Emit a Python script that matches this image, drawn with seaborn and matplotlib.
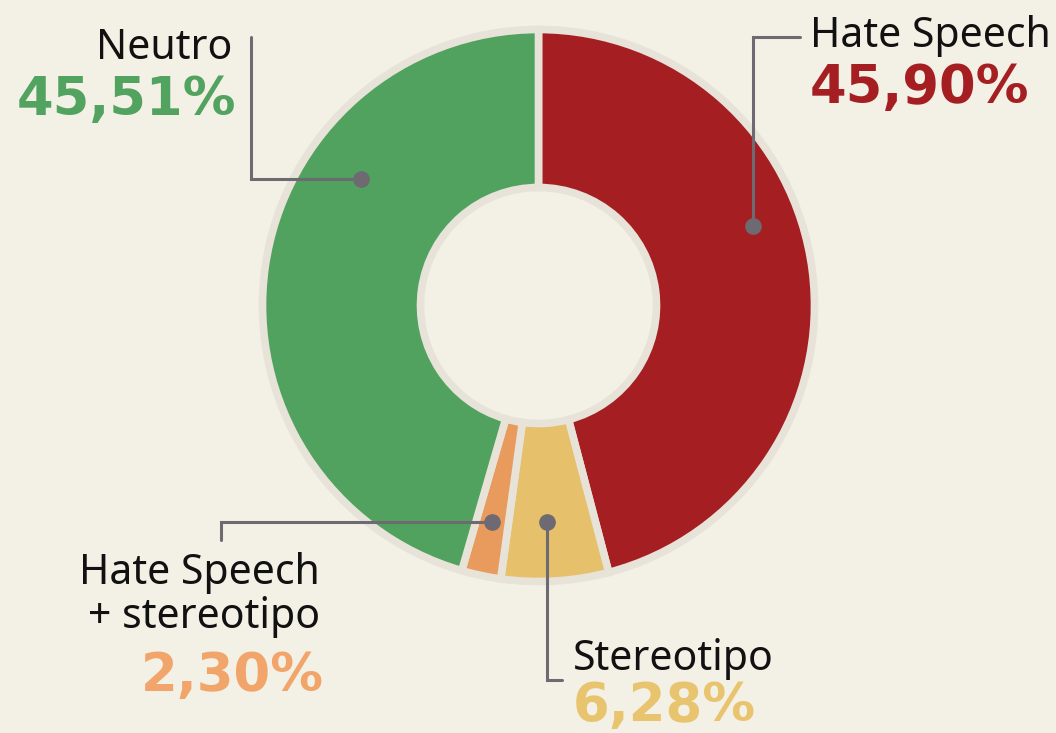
import matplotlib
matplotlib.use("Agg")
import matplotlib.pyplot as plt
import seaborn as sns

# dati
categorie = ["Hate Speech", "Stereotipo", "Hate Speech\n+ stereotipo", "Neutro"]
valori = [45.90, 6.28, 2.30, 45.51]
etichette_pct = ["45,90%", "6,28%", "2,30%", "45,51%"]
colori = ["#a51f22", "#e6c06a", "#e99b5d", "#51a25f"]
colori_testo = ["#a51f22", "#e9c46e", "#f1a56a", "#52a35f"]

sfondo = "#f3f0e6"
bordo = "#e7e3d8"
linea = "#6e6a72"

sns.set_theme(style="white", rc={"figure.facecolor": sfondo, "axes.facecolor": sfondo})

fig = plt.figure(figsize=(10.56, 7.33), dpi=100)
ax = fig.add_axes([0, 0, 1, 1])

# la ciambella (asse y invertito -> counterclock=True appare in senso orario)
cx, cy = 538.5, 305.5
ax.pie(valori, colors=colori, startangle=-90, counterclock=True,
       center=(cx, cy), radius=276, frame=True,
       wedgeprops=dict(width=158, edgecolor=bordo, linewidth=5.5))
ax.set_xlim(0, 1056)
ax.set_ylim(733, 0)
ax.set_aspect("equal")
ax.axis("off")

# linee guida: punto sulla fetta -> angolo -> estremo
guide = [
    [(753, 226), (753, 37), (800, 37)],
    [(547, 522), (547, 680), (562, 680)],
    [(492, 522), (221, 522), (221, 540)],
    [(361, 179), (251, 179), (251, 37)],
]
for g in guide:
    xs = [p[0] for p in g]
    ys = [p[1] for p in g]
    ax.plot(xs, ys, color=linea, lw=2.2, solid_joinstyle="miter", zorder=3)
    ax.plot(xs[0], ys[0], "o", color=linea, ms=11, zorder=4)

nome_font = ["Noto Sans", "DejaVu Sans"]
pct_font = ["DejaVu Sans"]

# posizioni testo (x, y nome, y pct, allineamento)
pos = [
    (810, 36, 88, "left"),
    (573, 659, 706, "left"),
    (320, 595, 676, "right"),
    (232, 48, 100, "right"),
]
for i, (x, yn, yp, ha) in enumerate(pos):
    ax.text(x, yn, categorie[i], family=nome_font, fontstretch="condensed",
            fontsize=29.5, color="#111111", ha=ha, va="center", linespacing=1.05)
    ax.text(x + (4 if ha == "right" else 0), yp, etichette_pct[i], family=pct_font,
            fontweight="bold", fontsize=38, color=colori_testo[i], ha=ha, va="center")

fig.savefig("out.png", dpi=100, facecolor=sfondo)
